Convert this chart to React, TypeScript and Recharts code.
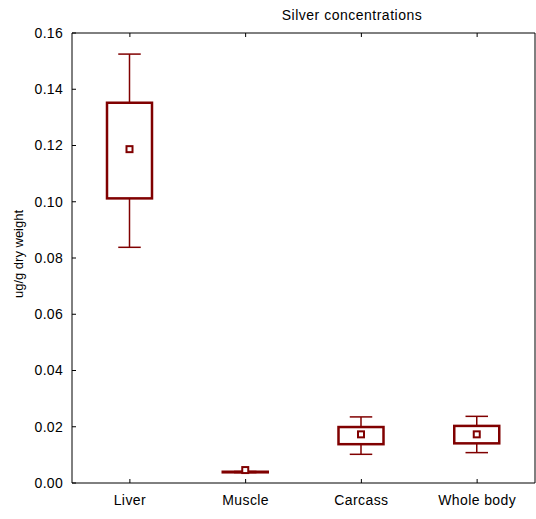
import { ComposedChart, Bar, XAxis, YAxis } from 'recharts';

const categories = ['Liver', 'Muscle', 'Carcass', 'Whole body'];
const whiskerLow = [0.0838, 0.0037, 0.0102, 0.0108];
const boxLow = [0.1012, 0.0038, 0.0138, 0.0141];
const means = [0.1187, 0.0046, 0.0173, 0.0173];
const boxHigh = [0.1352, 0.004, 0.0199, 0.0203];
const whiskerHigh = [0.1525, 0.0041, 0.0235, 0.0237];
const yTicks = [0, 0.02, 0.04, 0.06, 0.08, 0.1, 0.12, 0.14, 0.16];

const data = categories.map((name, i) => ({
  name,
  range: [whiskerLow[i], whiskerHigh[i]],
  lo: whiskerLow[i],
  q1: boxLow[i],
  mean: means[i],
  q3: boxHigh[i],
  hi: whiskerHigh[i],
}));

const RED = '#800000';
const FONT = '"Liberation Sans", Arial, sans-serif';

// range bar spans [lo, hi]; inner values are placed on the same linear scale
function BoxShape(props: any) {
  const { x, y, width, height, payload } = props;
  const { lo, hi, q1, q3, mean } = payload;
  const py = (v: number) => y + ((hi - v) / (hi - lo)) * height;
  const cx = x + width / 2;
  const cap = width / 2;
  return (
    <g>
      <line x1={cx} x2={cx} y1={py(hi)} y2={py(q3)} stroke={RED} strokeWidth={1.5} />
      <line x1={cx} x2={cx} y1={py(q1)} y2={py(lo)} stroke={RED} strokeWidth={1.5} />
      <line x1={cx - cap / 2} x2={cx + cap / 2} y1={py(hi)} y2={py(hi)} stroke={RED} strokeWidth={1.5} />
      <line x1={cx - cap / 2} x2={cx + cap / 2} y1={py(lo)} y2={py(lo)} stroke={RED} strokeWidth={1.5} />
      <rect x={x} y={py(q3)} width={width} height={py(q1) - py(q3)} fill="none" stroke={RED} strokeWidth={2.5} />
      <rect x={cx - 3} y={py(mean) - 3} width={6} height={6} fill="#fff" stroke={RED} strokeWidth={2} />
    </g>
  );
}

const LeftTick = (props: any) => {
  const { x, y, payload } = props;
  return (
    <g>
      <line x1={x} x2={x + 4} y1={y} y2={y} stroke="#000" />
      <text x={x - 9} y={y} dy="0.35em" textAnchor="end" fontSize={14} letterSpacing={0.3} fontFamily={FONT} fill="#000">
        {payload.value.toFixed(2)}
      </text>
    </g>
  );
};

const RightTick = (props: any) => {
  const { x, y } = props;
  return <line x1={x} x2={x - 4} y1={y} y2={y} stroke="#000" />;
};

const BottomTick = (props: any) => {
  const { x, y, payload } = props;
  return (
    <g>
      <line x1={x} x2={x} y1={y} y2={y - 4} stroke="#000" />
      <text x={x} y={y + 22} textAnchor="middle" fontSize={14} letterSpacing={0.4} fontFamily={FONT} fill="#000">
        {payload.value}
      </text>
    </g>
  );
};

const TopTick = (props: any) => {
  const { x, y } = props;
  return <line x1={x} x2={x} y1={y} y2={y + 4} stroke="#000" />;
};

export default function App() {
  return (
    <div style={{ position: 'absolute', left: 0, top: 0, width: 536, height: 519, background: '#fff' }}>
      <ComposedChart width={536} height={519} data={data} margin={{ top: 32, right: 0, bottom: 0, left: 0 }}>
        <XAxis dataKey="name" xAxisId="bottom" height={36} tickLine={false} tickSize={0} tickMargin={0} tick={<BottomTick />} stroke="#000" interval={0} />
        <XAxis dataKey="name" xAxisId="top" orientation="top" height={1} tickLine={false} tickSize={0} tickMargin={0} tick={<TopTick />} stroke="#000" interval={0} />
        <YAxis yAxisId="left" domain={[0, 0.16]} ticks={yTicks} width={72} tickLine={false} tickSize={0} tickMargin={0} tick={<LeftTick />} stroke="#000" allowDataOverflow />
        <YAxis yAxisId="right" orientation="right" domain={[0, 0.16]} ticks={yTicks} width={1} tickLine={false} tickSize={0} tickMargin={0} tick={<RightTick />} stroke="#000" />
        <Bar dataKey="range" xAxisId="bottom" yAxisId="left" barSize={45} shape={<BoxShape />} isAnimationActive={false} />
      </ComposedChart>
      <svg width={536} height={519} style={{ position: 'absolute', left: 0, top: 0, pointerEvents: 'none' }}>
        <text x={352} y={20} textAnchor="middle" fontSize={14} letterSpacing={0.5} fontFamily={FONT} fill="#000">Silver concentrations</text>
        <text x={0} y={0} transform="translate(23,254) rotate(-90)" textAnchor="middle" fontSize={13} fontFamily={FONT} fill="#000">ug/g dry weight</text>
      </svg>
    </div>
  );
}
